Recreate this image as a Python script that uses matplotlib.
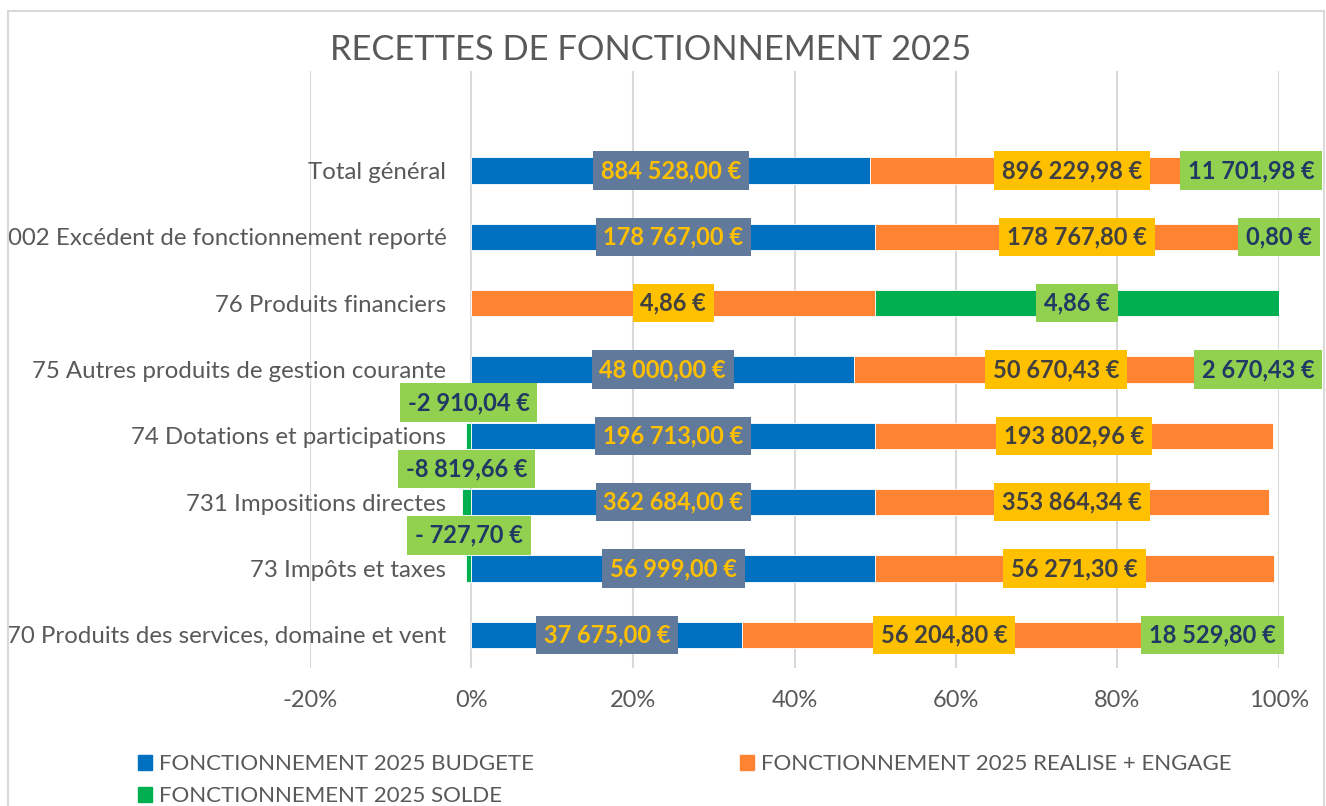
import numpy as np
import matplotlib.pyplot as plt
from matplotlib.patches import Rectangle, Patch

plt.rcParams['font.family'] = ['Lato', 'DejaVu Sans']

# Données (du bas vers le haut, comme dans Excel)
categories = ["70 Produits des services, domaine et vent",
              "73 Impôts et taxes",
              "731 Impositions directes",
              "74 Dotations et participations",
              "75 Autres produits de gestion courante",
              "76 Produits financiers",
              "002 Excédent de fonctionnement reporté",
              "Total général"]
budgete = [37675.00, 56999.00, 362684.00, 196713.00, 48000.00, 0.0, 178767.00, 884528.00]
realise = [56204.80, 56271.30, 353864.34, 193802.96, 50670.43, 4.86, 178767.80, 896229.98]
solde = [18529.80, -727.70, -8819.66, -2910.04, 2670.43, 4.86, 0.80, 11701.98]
series_names = ["FONCTIONNEMENT 2025 BUDGETE",
                "FONCTIONNEMENT 2025 REALISE + ENGAGE",
                "FONCTIONNEMENT 2025 SOLDE"]

bar_colors = ['#0070C0', '#FF8330', '#00B050']
box_colors = ['#61799A', '#FFC000', '#92D050']
txt_colors = ['#FFC000', '#404040', '#1F3864']
grey = '#595959'


def euro(v):
    s = f"{abs(v):,.2f}".replace(",", " ").replace(".", ",")
    if v < 0:
        return ("- " if abs(v) < 1000 else "-") + s + " €"
    return s + " €"


W, H = 1326, 806
fig = plt.figure(figsize=(W / 100, H / 100), dpi=100)
ax = fig.add_axes([310 / W, 1 - 668 / H, (1279 - 310) / W, (668 - 71) / H])

# cadre du graphique
fig.patches.append(Rectangle((8 / W, -0.05), (1324 - 8) / W, 1.05 - 11 / H,
                             transform=fig.transFigure, fill=False,
                             edgecolor='#D9D9D9', linewidth=1.5))

data = np.array([budgete, realise, solde])
totals = np.abs(data).sum(axis=0)
pct = data / totals
y = np.arange(len(categories))

pos_left = np.zeros(len(categories))
neg_left = np.zeros(len(categories))
labels = []
for i in range(3):
    vals = pct[i]
    left = np.where(vals >= 0, pos_left, neg_left)
    ax.barh(y, vals, left=left, height=0.4, color=bar_colors[i],
            edgecolor='white', linewidth=0.6, label=series_names[i], zorder=2)
    for j in range(len(categories)):
        if data[i, j] == 0:
            continue
        xc = left[j] + vals[j] / 2
        yc = y[j] + (0.5 if data[i, j] < 0 else 0)
        t = ax.text(xc, yc, euro(data[i, j]), ha='center', va='center',
                    fontsize=17, fontweight='bold', color=txt_colors[i], zorder=4,
                    bbox=dict(boxstyle='square,pad=0.33', facecolor=box_colors[i],
                              edgecolor='none'))
        labels.append(t)
    pos_left = pos_left + np.where(vals >= 0, vals, 0)
    neg_left = neg_left + np.where(vals < 0, vals, 0)

ax.set_xlim(-0.2, 1.0)
ax.set_ylim(-0.5, 8.5)
ax.set_xticks(np.arange(-0.2, 1.01, 0.2))
ax.set_xticklabels([f"{v:.0f}%" for v in np.arange(-20, 101, 20)])
ax.set_yticks(y)
ax.set_yticklabels(categories)
ax.spines['left'].set_position(('data', 0))
for s in ax.spines.values():
    s.set_visible(False)
ax.tick_params(axis='x', length=0, pad=16, labelsize=17, labelcolor=grey)
ax.tick_params(axis='y', length=0, pad=18, labelsize=17.3, labelcolor=grey)
ax.grid(axis='x', color='#D9D9D9', linewidth=1.5, zorder=0)
ax.set_axisbelow(True)

# les étiquettes ne sortent pas du cadre à droite
fig.canvas.draw()
r = fig.canvas.get_renderer()
inv = ax.transData.inverted()
for t in labels:
    bb = t.get_bbox_patch().get_window_extent(r)
    over = bb.x1 - 1322
    if over > 0:
        x0 = inv.transform((0, 0))[0]
        x1 = inv.transform((over, 0))[0]
        t.set_x(t.get_position()[0] - (x1 - x0))

fig.text(651 / W, 1 - 50 / H, "RECETTES DE FONCTIONNEMENT 2025", ha='center', va='center',
         fontsize=24.8, color=grey)

h = [Patch(color=c) for c in bar_colors]
leg1 = fig.legend([h[0], h[2]], [series_names[0], series_names[2]], loc='upper left',
                  bbox_to_anchor=(118 / W, 1 - 734 / H), frameon=False, fontsize=16,
                  handlelength=0.65, handleheight=0.65, handletextpad=0.3, labelspacing=0.55,
                  labelcolor=grey)
leg2 = fig.legend([h[1]], [series_names[1]], loc='upper left',
                  bbox_to_anchor=(720 / W, 1 - 734 / H), frameon=False, fontsize=16,
                  handlelength=0.65, handleheight=0.65, handletextpad=0.3,
                  labelcolor=grey)

fig.savefig("out.png", dpi=100)
